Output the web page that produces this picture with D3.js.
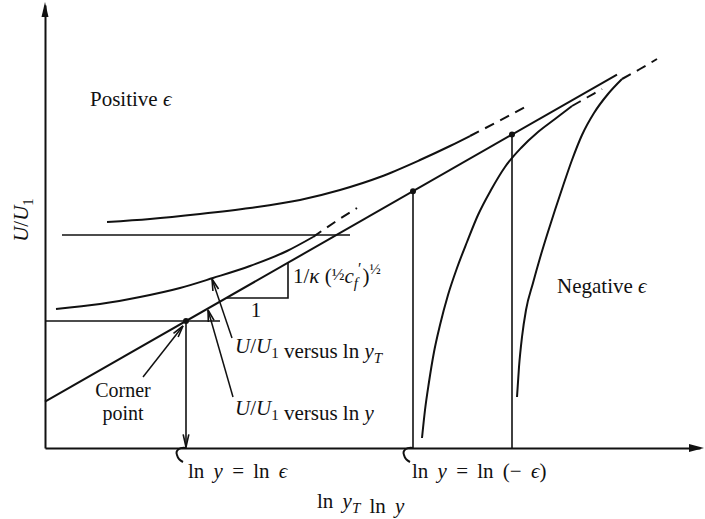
<!DOCTYPE html>
<html><head><meta charset="utf-8">
<script src="https://cdn.jsdelivr.net/npm/d3@7"></script>
<style>
html,body{margin:0;padding:0;background:#fff;}
text{font-family:"Liberation Serif","DejaVu Serif",serif;fill:#111;font-size:21px;}
</style></head><body>
<svg id="chart" width="705" height="519"></svg>
<script>
// Plot extents: ln y along x, U/U1 along y (arbitrary units)
const xExtent = [0, 655];
const yExtent = [0, 443];

// Log-law line: U/U1 = intercept + slope * ln y
const logLawIntercept = 46.3;
const logLawSlope = 0.572;
const logLawEnd = 572;

// Corner point and the two ln y = ln(-eps) stations on the log-law line
const cornerX = 141;
const negativeEpsX = [368, 467];

// Reference levels
const upperLevel = 213;
const upperLevelSpan = [17, 305];
const cornerLevelSpan = [0, 175];

// Slope triangle (run ends at x, sits at level y)
const slopeTriangle = { x: 243, y: 150 };

// Positive-eps curve (top)
const positiveCurve = [[62,226],[105,229],[155,234],[205,240],[255,248],[295,258],[335,271],[375,288],[405,302],[425,312]];
const positiveCurveDashed = [[425,312],[454,327],[482,342]];

// U/U1 versus ln yT
const lnYTCurve = [[11,139],[55,144],[95,151],[135,160],[168,170],[205,182],[242,197],[268,211]];
const lnYTCurveDashed = [[268,211],[290,226],[312,240]];

// Negative-eps curves
const negativeNear = [[377,10],[380,38],[384,66],[389,96],[395,123],[403,153],[412,180],[422,206],[433,233],[446,258],[460,281],[476,300],[493,316],[510,329],[527,342]];
const negativeNearDashed = [[527,342],[542,350.5],[557,359]];
const negativeFar = [[472,51],[474,81],[477,111],[481,138],[488,165],[495,190],[502,213],[510,238],[518,262],[527,288],[537,313],[549,335],[563,354],[577,369]];
const negativeFarDashed = [[577,369],[595,379],[612,389]];

// Annotation arrows [from, to]
const cornerArrow = [[98,71],[138,122]];
const lnYTArrow = [[187,110],[167,169]];
const lnYArrow = [[188,51],[163,138]];

const svg = d3.select("#chart");
const x = d3.scaleLinear().domain(xExtent).range([45, 700]);
const y = d3.scaleLinear().domain(yExtent).range([448, 5]);
const logLaw = v => logLawIntercept + logLawSlope * v;

const ink = "#111";
const smooth = d3.line().x(d => x(d[0])).y(d => y(d[1])).curve(d3.curveMonotoneX);
const straight = d3.line().x(d => x(d[0])).y(d => y(d[1]));

// Axes
svg.append("g").attr("transform", `translate(0,${y(0)})`)
  .call(d3.axisBottom(x).tickValues([]).tickSizeOuter(0))
  .call(g => g.select(".domain").attr("stroke", ink).attr("stroke-width", 2));
svg.append("g").attr("transform", `translate(${x(0)},0)`)
  .call(d3.axisLeft(y).tickValues([]).tickSizeOuter(0))
  .call(g => g.select(".domain").attr("stroke", ink).attr("stroke-width", 2));
// axis arrowheads
svg.append("path").attr("fill", ink)
  .attr("d", `M${x(0)},${y(yExtent[1]) - 3} L${x(0) - 3.5},${y(yExtent[1]) + 12} L${x(0) + 3.5},${y(yExtent[1]) + 12}Z`);
svg.append("path").attr("fill", ink)
  .attr("d", `M${x(xExtent[1]) + 4},${y(0)} L${x(xExtent[1]) - 11},${y(0) - 4} L${x(xExtent[1]) - 11},${y(0) + 4}Z`);

function drawPath(pts, gen, w, dash) {
  const p = svg.append("path").attr("d", gen(pts)).attr("fill", "none")
    .attr("stroke", ink).attr("stroke-width", w).attr("stroke-linecap", "butt");
  if (dash) p.attr("stroke-dasharray", dash);
  return p;
}

// Reference levels
drawPath([[upperLevelSpan[0], upperLevel], [upperLevelSpan[1], upperLevel]], straight, 1.5);
drawPath([[cornerLevelSpan[0], logLaw(cornerX)], [cornerLevelSpan[1], logLaw(cornerX)]], straight, 1.5);

// Log-law line
drawPath([[0, logLaw(0)], [logLawEnd, logLaw(logLawEnd)]], straight, 2);

// Slope triangle
const triStart = (slopeTriangle.y - logLawIntercept) / logLawSlope;
drawPath([[triStart, slopeTriangle.y], [slopeTriangle.x, slopeTriangle.y], [slopeTriangle.x, logLaw(slopeTriangle.x)]], straight, 1.6);

// Curves
drawPath(positiveCurve, smooth, 2);
drawPath(positiveCurveDashed, smooth, 2, "10,7");
drawPath(lnYTCurve, smooth, 2);
drawPath(lnYTCurveDashed, smooth, 2, "10,7");
drawPath(negativeNear, smooth, 2);
drawPath(negativeNearDashed, smooth, 2, "10,7");
drawPath(negativeFar, smooth, 2);
drawPath(negativeFarDashed, smooth, 2, "10,7");

// Verticals from the log-law line to the axis
[cornerX, ...negativeEpsX].forEach(v => {
  drawPath([[v, logLaw(v)], [v, 0]], straight, 1.6);
  svg.append("circle").attr("cx", x(v)).attr("cy", y(logLaw(v))).attr("r", 3).attr("fill", ink);
});

function arrowHead(px, py, fromX, fromY, len, spread) {
  const a = Math.atan2(py - fromY, px - fromX);
  const l = [px - len * Math.cos(a - spread), py - len * Math.sin(a - spread)];
  const r = [px - len * Math.cos(a + spread), py - len * Math.sin(a + spread)];
  svg.append("path").attr("d", `M${l[0]},${l[1]} L${px},${py} L${r[0]},${r[1]}`)
    .attr("fill", "none").attr("stroke", ink).attr("stroke-width", 1.6);
}

// Downward arrow onto the axis and hooks below it
[cornerX, negativeEpsX[0]].forEach((v, i) => {
  const px = x(v), py = y(0) - 1;
  if (i === 0) arrowHead(px, py, px, py - 50, 13, 0.22);
  svg.append("path")
    .attr("d", `M${px},${py + 1} C${px - 6},${py} ${px - 11},${py + 3} ${px - 9},${py + 8} C${px - 8},${py + 12} ${px - 5},${py + 14} ${px - 3},${py + 15}`)
    .attr("fill", "none").attr("stroke", ink).attr("stroke-width", 2);
});

// Annotation arrows
[cornerArrow, lnYTArrow, lnYArrow].forEach(a => {
  drawPath(a, straight, 1.5);
  arrowHead(x(a[1][0]), y(a[1][1]), x(a[0][0]), y(a[0][1]), 12, 0.25);
});

// Text
const it = s => `<tspan font-style="italic">${s}</tspan>`;
const sub = (s, italic) => `<tspan dy="5" font-size="15px"${italic ? ' font-style="italic"' : ''}>${s}</tspan><tspan dy="-5"></tspan>`;
function label(px, py, html, anchor) {
  return svg.append("text").attr("x", px).attr("y", py)
    .attr("text-anchor", anchor || "start").html(html);
}
label(90, 106, `Positive ${it("ϵ")}`);
label(557, 293, `Negative ${it("ϵ")}`);
label(0, 0, `${it("U")}/${it("U")}${sub("1")}`, "middle").attr("transform", "translate(28,220) rotate(-90)");
label(293, 283, `1/${it("κ")} (<tspan font-size="17px" dy="-3">½</tspan><tspan dy="3">${it("c")}</tspan><tspan dy="5" font-size="15px" font-style="italic">f</tspan><tspan dy="-14" font-size="16px">′</tspan><tspan dy="9" dx="1">)</tspan><tspan dy="-9" font-size="15px">½</tspan>`);
label(256, 317, "1", "middle");
label(235, 353, `${it("U")}/${it("U")}${sub("1")} versus ln ${it("y")}${sub("T", true)}`);
label(235, 415, `${it("U")}/${it("U")}${sub("1")} versus ln ${it("y")}`);
label(123, 397, "Corner", "middle").style("font-size", "20px");
label(123, 420, "point", "middle").style("font-size", "20px");
label(188, 478, `ln ${it("y")} = ln ${it("ϵ")}`).attr("word-spacing", "4px");
label(412, 478, `ln ${it("y")} = ln (− ${it("ϵ")})`).attr("word-spacing", "4px");
label(317, 508, `ln ${it("y")}${sub("T", true)} ln ${it("y")}`).attr("word-spacing", "4px");
</script>
</body></html>
